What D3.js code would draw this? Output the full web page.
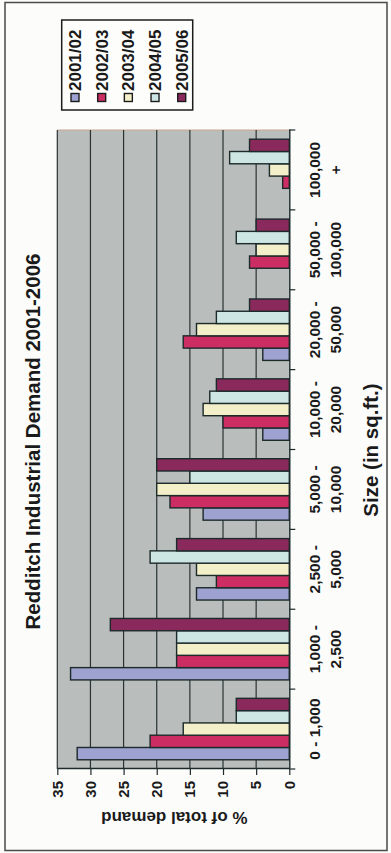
<!DOCTYPE html>
<html>
<head>
<meta charset="utf-8">
<script src="https://cdn.jsdelivr.net/npm/d3@7"></script>
<style>
  html, body { margin: 0; padding: 0; background: #fcfcfa; }
  svg { display: block; }
  text { font-family: "Liberation Sans", Arial, sans-serif; fill: #1a1a1a; }
</style>
</head>
<body>
<svg id="chart" width="391" height="853"></svg>
<script>
// Redditch industrial demand by unit size, share of total demand per year
const categories = ["0 - 1,000", "1,000 - 2,500", "2,500 - 5,000", "5,000 - 10,000",
                    "10,000 - 20,000", "20,000 - 50,000", "50,000 - 100,000", "100,000 +"];
const categoryLines = [["0 - 1,000"], ["1,000 -", "2,500"], ["2,500 -", "5,000"], ["5,000 -", "10,000"],
                       ["10,000 -", "20,000"], ["20,000 -", "50,000"], ["50,000 -", "100,000"], ["100,000", "+"]];
const years = ["2001/02", "2002/03", "2003/04", "2004/05", "2005/06"];
const v2001 = [32, 33, 14, 13, 4, 4, 0, 0];
const v2002 = [21, 17, 11, 18, 10, 16, 6, 1];
const v2003 = [16, 17, 14, 20, 13, 14, 5, 3];
const v2004 = [8, 17, 21, 15, 12, 11, 8, 9];
const v2005 = [8, 27, 17, 20, 11, 6, 5, 6];
const valueTicks = [0, 5, 10, 15, 20, 25, 30, 35];
const colors = ["#9ea2d0", "#cc2e64", "#f3efc8", "#cde6e4", "#8a2a5c"];

const seriesValues = [v2001, v2002, v2003, v2004, v2005];
const series = years.map((y, i) => ({ year: y, color: colors[i], values: seriesValues[i] }));

const svg = d3.select("#chart");

// outer frame
svg.append("rect").attr("x", 5).attr("y", 2.5).attr("width", 382).attr("height", 848)
  .attr("fill", "none").attr("stroke", "#4a4a4a").attr("stroke-width", 1.5);

// The whole chart is laid out landscape and turned a quarter-turn anticlockwise.
const W = 853;
const g = svg.append("g").attr("transform", `translate(0,${W}) rotate(-90)`);

const plot = { left: 84, right: 723, top: 57.3, bottom: 289.3 };

const x = d3.scaleBand().domain(categories).range([plot.left, plot.right]).padding(0);
const xs = d3.scaleBand().domain(years).range([0, x.bandwidth()]).paddingInner(0).paddingOuter(0.75);
const y = d3.scaleLinear().domain([0, 35]).range([plot.bottom, plot.top]);

// plot background
g.append("rect").attr("x", plot.left).attr("y", plot.top)
  .attr("width", plot.right - plot.left).attr("height", plot.bottom - plot.top)
  .attr("fill", "#b9bdbc");
g.append("line").attr("x1", plot.right).attr("x2", plot.right)
  .attr("y1", plot.top).attr("y2", plot.bottom)
  .attr("stroke", "#c9a78f").attr("stroke-width", 1);

// gridlines
g.append("g").selectAll("line").data(valueTicks.filter(d => d > 0)).join("line")
  .attr("x1", plot.left).attr("x2", plot.right)
  .attr("y1", d => y(d)).attr("y2", d => y(d))
  .attr("stroke", "#2a3333").attr("stroke-width", 1.2);

// bars
const groups = g.append("g").selectAll("g").data(series).join("g")
  .attr("fill", d => d.color);
groups.selectAll("rect")
  .data(s => s.values.map((v, i) => ({ v, cat: categories[i], year: s.year })).filter(d => d.v > 0))
  .join("rect")
  .attr("x", d => x(d.cat) + xs(d.year))
  .attr("width", xs.bandwidth())
  .attr("y", d => y(d.v))
  .attr("height", d => y(0) - y(d.v))
  .attr("stroke", "#1c2a2a").attr("stroke-width", 1.4);

// value axis
const yAxis = g.append("g").attr("transform", `translate(${plot.left},0)`)
  .call(d3.axisLeft(y).tickValues(valueTicks).tickSize(6).tickPadding(6).tickSizeOuter(0));
yAxis.select(".domain").attr("stroke", "#1c2a2a").attr("stroke-width", 1.4);
yAxis.selectAll(".tick line").attr("stroke", "#1c2a2a").attr("stroke-width", 1.2);
yAxis.selectAll(".tick text").attr("font-size", 15).attr("font-weight", "bold").attr("fill", "#1a1a1a");

// category axis: ticks fall between categories
const xAxis = g.append("g").attr("transform", `translate(0,${plot.bottom})`)
  .call(d3.axisBottom(x).tickSize(0).tickFormat(""));
xAxis.select(".domain").attr("stroke", "#1c2a2a").attr("stroke-width", 1.4);
const bounds = categories.map(c => x(c)).concat([x.range()[1]]);
xAxis.selectAll(".bound").data(bounds).join("line").attr("class", "bound")
  .attr("x1", d => d).attr("x2", d => d).attr("y1", 0).attr("y2", 6)
  .attr("stroke", "#1c2a2a").attr("stroke-width", 1.2);

const catLabels = g.append("g").selectAll("text").data(categories).join("text")
  .attr("x", d => x(d) + x.bandwidth() / 2)
  .attr("y", 320)
  .attr("text-anchor", "middle")
  .attr("font-size", 15.5).attr("font-weight", "bold");
catLabels.selectAll("tspan").data((d, i) => categoryLines[i]).join("tspan")
  .attr("x", function () { return d3.select(this.parentNode).attr("x"); })
  .attr("dy", (d, i) => i === 0 ? 0 : 21)
  .text(d => d);

// titles
g.append("text").attr("x", 411.5).attr("y", 40).attr("text-anchor", "middle")
  .attr("font-size", 20.5).attr("font-weight", "bold")
  .text("Redditch Industrial Demand 2001-2006");
g.append("text").attr("x", 403).attr("y", 378).attr("text-anchor", "middle")
  .attr("font-size", 20.5).attr("font-weight", "bold")
  .text("Size (in sq.ft.)");
g.append("text").attr("transform", `translate(41,${(plot.top + plot.bottom) / 2 + 1}) rotate(-90)`)
  .attr("text-anchor", "middle")
  .attr("font-size", 17).attr("font-weight", "bold")
  .text("% of total demand");

// legend
const legend = g.append("g");
legend.append("rect").attr("x", 743).attr("y", 61.7).attr("width", 90).attr("height", 131)
  .attr("fill", "#fdfdfb").attr("stroke", "#1c1c1c").attr("stroke-width", 1.5);
const ly = d3.scalePoint().domain(years).range([75, 181.7]);
const items = legend.selectAll("g.item").data(series).join("g").attr("class", "item")
  .attr("transform", d => `translate(0,${ly(d.year)})`);
items.append("rect").attr("x", 751.5).attr("y", -4).attr("width", 8).attr("height", 8)
  .attr("fill", d => d.color).attr("stroke", "#1c1c1c").attr("stroke-width", 1.4);
items.append("text").attr("x", 762).attr("y", 6).attr("font-size", 17).attr("font-weight", "bold")
  .text(d => d.year);
</script>
</body>
</html>
